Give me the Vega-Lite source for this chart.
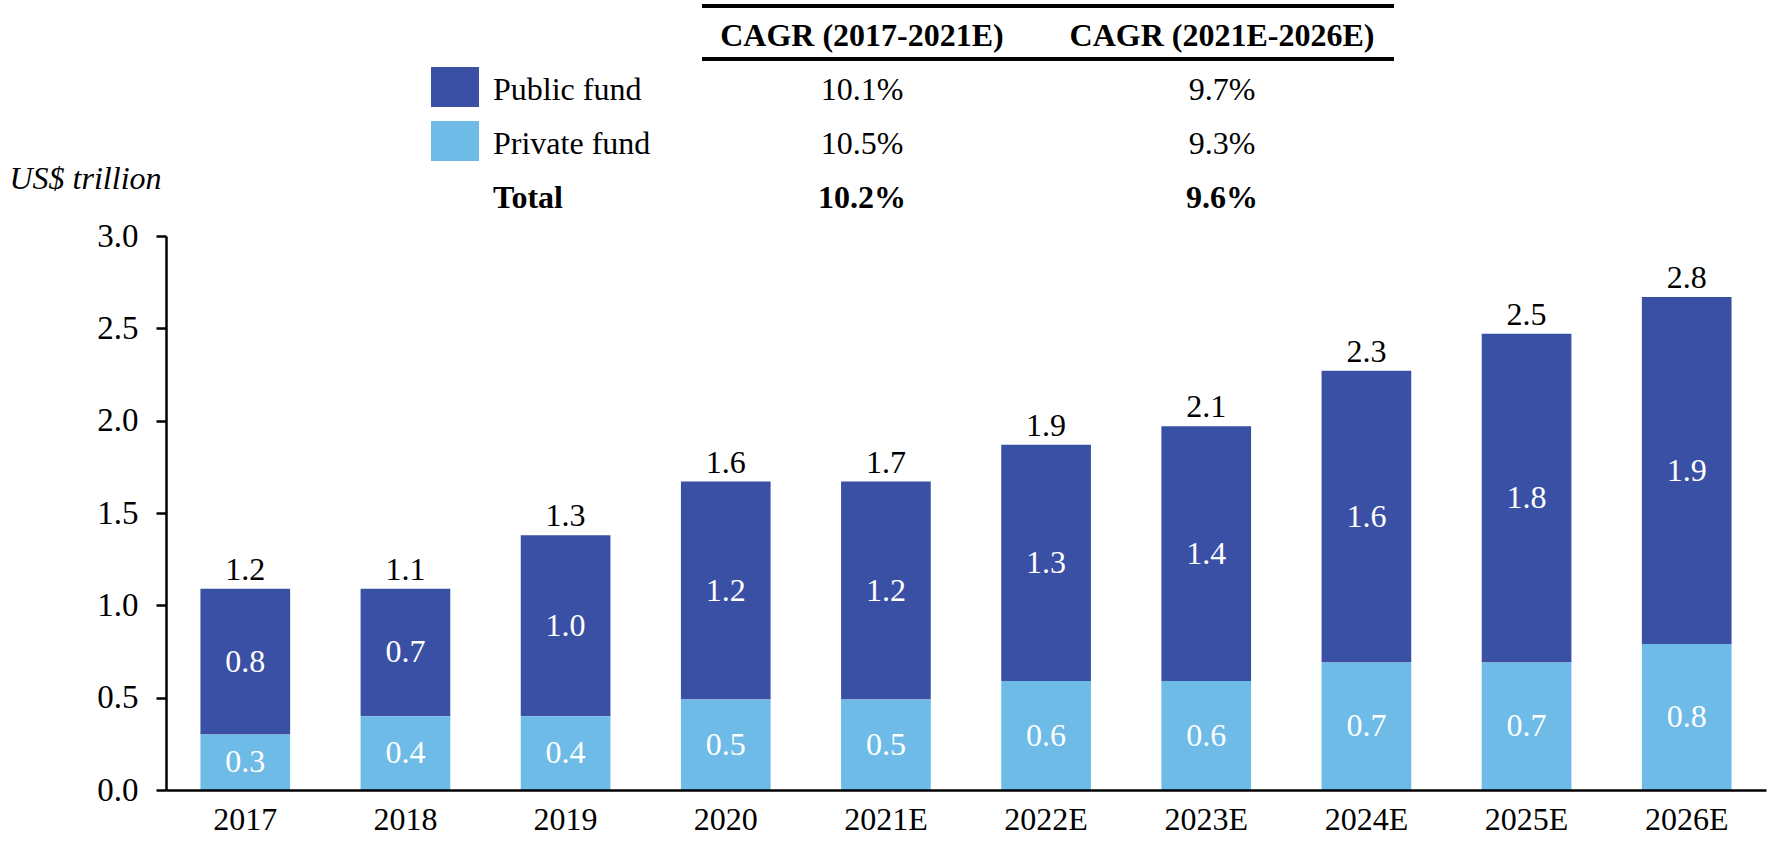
{
  "$schema": "https://vega.github.io/schema/vega-lite/v6.json",
  "padding": {"left": 9, "top": 0, "right": 4, "bottom": 5},
  "bounds": "flush",
  "spacing": 20,
  "background": "white",
  "config": {
    "view": {"stroke": null},
    "font": "Liberation Serif, Times New Roman, DejaVu Serif, serif",
    "text": {"font": "Liberation Serif, Times New Roman, DejaVu Serif, serif"}
  },
  "datasets": {
    "funds": [
      {"year": "2017", "fund": "Public fund", "value": 0.79, "total": 1.2},
      {"year": "2017", "fund": "Private fund", "value": 0.3, "total": 1.2},
      {"year": "2018", "fund": "Public fund", "value": 0.69, "total": 1.1},
      {"year": "2018", "fund": "Private fund", "value": 0.4, "total": 1.1},
      {"year": "2019", "fund": "Public fund", "value": 0.98, "total": 1.3},
      {"year": "2019", "fund": "Private fund", "value": 0.4, "total": 1.3},
      {"year": "2020", "fund": "Public fund", "value": 1.18, "total": 1.6},
      {"year": "2020", "fund": "Private fund", "value": 0.49, "total": 1.6},
      {"year": "2021E", "fund": "Public fund", "value": 1.18, "total": 1.7},
      {"year": "2021E", "fund": "Private fund", "value": 0.49, "total": 1.7},
      {"year": "2022E", "fund": "Public fund", "value": 1.28, "total": 1.9},
      {"year": "2022E", "fund": "Private fund", "value": 0.59, "total": 1.9},
      {"year": "2023E", "fund": "Public fund", "value": 1.38, "total": 2.1},
      {"year": "2023E", "fund": "Private fund", "value": 0.59, "total": 2.1},
      {"year": "2024E", "fund": "Public fund", "value": 1.58, "total": 2.3},
      {"year": "2024E", "fund": "Private fund", "value": 0.69, "total": 2.3},
      {"year": "2025E", "fund": "Public fund", "value": 1.78, "total": 2.5},
      {"year": "2025E", "fund": "Private fund", "value": 0.69, "total": 2.5},
      {"year": "2026E", "fund": "Public fund", "value": 1.88, "total": 2.8},
      {"year": "2026E", "fund": "Private fund", "value": 0.79, "total": 2.8}
    ],
    "cagr": [
      {"row": "header", "col": "c1", "text": "CAGR (2017-2021E)"},
      {"row": "header", "col": "c2", "text": "CAGR (2021E-2026E)"},
      {"row": "Public fund", "col": "name", "text": "Public fund"},
      {"row": "Public fund", "col": "c1", "text": "10.1%"},
      {"row": "Public fund", "col": "c2", "text": "9.7%"},
      {"row": "Private fund", "col": "name", "text": "Private fund"},
      {"row": "Private fund", "col": "c1", "text": "10.5%"},
      {"row": "Private fund", "col": "c2", "text": "9.3%"},
      {"row": "Total", "col": "name", "text": "Total"},
      {"row": "Total", "col": "c1", "text": "10.2%"},
      {"row": "Total", "col": "c2", "text": "9.6%"}
    ]
  },
  "resolve": {"scale": {"x": "independent", "y": "independent", "color": "shared"}},
  "vconcat": [
    {
      "width": 1600,
      "height": 216,
      "data": {"name": "cagr"},
      "layer": [
        {
          "mark": {"type": "rule", "strokeWidth": 4, "color": "black", "xOffset": -160, "x2Offset": 172, "yOffset": -30, "y2Offset": -30},
          "encoding": {
            "x": {"datum": "c1", "type": "nominal", "scale": {"type": "point", "domain": ["name", "c1", "c2"], "range": [336, 1056], "padding": 0}, "axis": null},
            "x2": {"datum": "c2"},
            "y": {"datum": "header", "type": "nominal", "scale": {"type": "point", "domain": ["header", "Public fund", "Private fund", "Total"], "range": [36, 198], "padding": 0}, "axis": null}
          }
        },
        {
          "mark": {"type": "rule", "strokeWidth": 4, "color": "black", "xOffset": -160, "x2Offset": 172, "yOffset": 23, "y2Offset": 23},
          "encoding": {
            "x": {"datum": "c1", "type": "nominal", "scale": {"type": "point", "domain": ["name", "c1", "c2"], "range": [336, 1056], "padding": 0}, "axis": null},
            "x2": {"datum": "c2"},
            "y": {"datum": "header", "type": "nominal", "scale": {"type": "point", "domain": ["header", "Public fund", "Private fund", "Total"], "range": [36, 198], "padding": 0}, "axis": null}
          }
        },
        {
          "transform": [{"filter": "datum.col == 'name' && datum.row != 'Total'"}],
          "mark": {"type": "point", "shape": "M-1.2,-1H1.2V1H-1.2Z", "filled": true, "size": 1600, "opacity": 1, "xOffset": -47, "yOffset": -3},
          "encoding": {
            "x": {"field": "col", "type": "nominal", "scale": {"type": "point", "domain": ["name", "c1", "c2"], "range": [336, 1056], "padding": 0}, "axis": null},
            "y": {"field": "row", "type": "nominal", "scale": {"type": "point", "domain": ["header", "Public fund", "Private fund", "Total"], "range": [36, 198], "padding": 0}, "axis": null},
            "color": {"field": "row", "type": "nominal", "legend": null}
          }
        },
        {
          "transform": [{"filter": "datum.col == 'name' && datum.row != 'Total'"}],
          "mark": {"type": "text", "align": "left", "baseline": "middle", "dx": -9, "fontSize": 32, "color": "black"},
          "encoding": {
            "x": {"field": "col", "type": "nominal", "scale": {"type": "point", "domain": ["name", "c1", "c2"], "range": [336, 1056], "padding": 0}, "axis": null},
            "y": {"field": "row", "type": "nominal", "scale": {"type": "point", "domain": ["header", "Public fund", "Private fund", "Total"], "range": [36, 198], "padding": 0}, "axis": null},
            "text": {"field": "text"}
          }
        },
        {
          "transform": [{"filter": "datum.col == 'name' && datum.row == 'Total'"}],
          "mark": {"type": "text", "align": "left", "baseline": "middle", "dx": -9, "fontSize": 32, "fontWeight": "bold", "color": "black"},
          "encoding": {
            "x": {"field": "col", "type": "nominal", "scale": {"type": "point", "domain": ["name", "c1", "c2"], "range": [336, 1056], "padding": 0}, "axis": null},
            "y": {"field": "row", "type": "nominal", "scale": {"type": "point", "domain": ["header", "Public fund", "Private fund", "Total"], "range": [36, 198], "padding": 0}, "axis": null},
            "text": {"field": "text"}
          }
        },
        {
          "transform": [{"filter": "datum.col != 'name' && (datum.row == 'Public fund' || datum.row == 'Private fund')"}],
          "mark": {"type": "text", "align": "center", "baseline": "middle", "fontSize": 32, "color": "black"},
          "encoding": {
            "x": {"field": "col", "type": "nominal", "scale": {"type": "point", "domain": ["name", "c1", "c2"], "range": [336, 1056], "padding": 0}, "axis": null},
            "y": {"field": "row", "type": "nominal", "scale": {"type": "point", "domain": ["header", "Public fund", "Private fund", "Total"], "range": [36, 198], "padding": 0}, "axis": null},
            "text": {"field": "text"}
          }
        },
        {
          "transform": [{"filter": "datum.col != 'name' && (datum.row == 'header' || datum.row == 'Total')"}],
          "mark": {"type": "text", "align": "center", "baseline": "middle", "fontSize": 32, "fontWeight": "bold", "color": "black"},
          "encoding": {
            "x": {"field": "col", "type": "nominal", "scale": {"type": "point", "domain": ["name", "c1", "c2"], "range": [336, 1056], "padding": 0}, "axis": null},
            "y": {"field": "row", "type": "nominal", "scale": {"type": "point", "domain": ["header", "Public fund", "Private fund", "Total"], "range": [36, 198], "padding": 0}, "axis": null},
            "text": {"field": "text"}
          }
        }
      ]
    },
    {
      "width": 1600,
      "height": 554,
      "data": {"name": "funds"},
      "encoding": {
        "x": {
          "field": "year", "type": "ordinal", "sort": null,
          "scale": {"paddingInner": 0.44, "paddingOuter": 0.215},
          "axis": {"title": null, "ticks": false, "domainColor": "black", "domainWidth": 2.5, "labelFontSize": 32, "labelColor": "black", "labelPadding": 14, "labelAngle": 0, "labelFont": "Liberation Serif, Times New Roman, DejaVu Serif, serif", "zindex": 1}
        }
      },
      "layer": [
        {
          "mark": {"type": "bar"},
          "encoding": {
            "y": {
              "field": "value", "type": "quantitative", "stack": "zero",
              "scale": {"domain": [0, 3], "nice": false},
              "axis": {
                "values": [0, 0.5, 1, 1.5, 2, 2.5, 3], "format": ".1f", "grid": false,
                "domainColor": "black", "domainWidth": 2.5, "tickColor": "black", "tickWidth": 2.5, "tickSize": 10,
                "labelFontSize": 33, "labelColor": "black", "labelPadding": 18, "labelFont": "Liberation Serif, Times New Roman, DejaVu Serif, serif",
                "title": "US$ trillion", "titleAngle": 0, "titleAlign": "left", "titleBaseline": "middle",
                "titleX": -157, "titleY": -58, "titleFontStyle": "italic", "titleFontWeight": "normal",
                "titleFontSize": 32, "titleColor": "black", "titleFont": "Liberation Serif, Times New Roman, DejaVu Serif, serif", "zindex": 1
              }
            },
            "color": {"field": "fund", "type": "nominal", "scale": {"domain": ["Public fund", "Private fund"], "range": ["#3A50A4", "#6EBBE8"]}, "legend": null},
            "order": {"field": "fund", "sort": "ascending"}
          }
        },
        {
          "mark": {"type": "text", "color": "white", "fontSize": 32, "baseline": "middle"},
          "encoding": {
            "y": {"field": "value", "type": "quantitative", "stack": "zero", "bandPosition": 0.5},
            "detail": {"field": "fund"},
            "order": {"field": "fund", "sort": "ascending"},
            "text": {"field": "value", "type": "quantitative", "format": ".1f"}
          }
        },
        {
          "transform": [{"aggregate": [{"op": "sum", "field": "value", "as": "top"}, {"op": "max", "field": "total", "as": "total"}], "groupby": ["year"]}],
          "mark": {"type": "text", "color": "black", "fontSize": 32, "baseline": "alphabetic", "dy": -9},
          "encoding": {
            "y": {"field": "top", "type": "quantitative"},
            "text": {"field": "total", "type": "quantitative", "format": ".1f"}
          }
        }
      ]
    }
  ]
}
